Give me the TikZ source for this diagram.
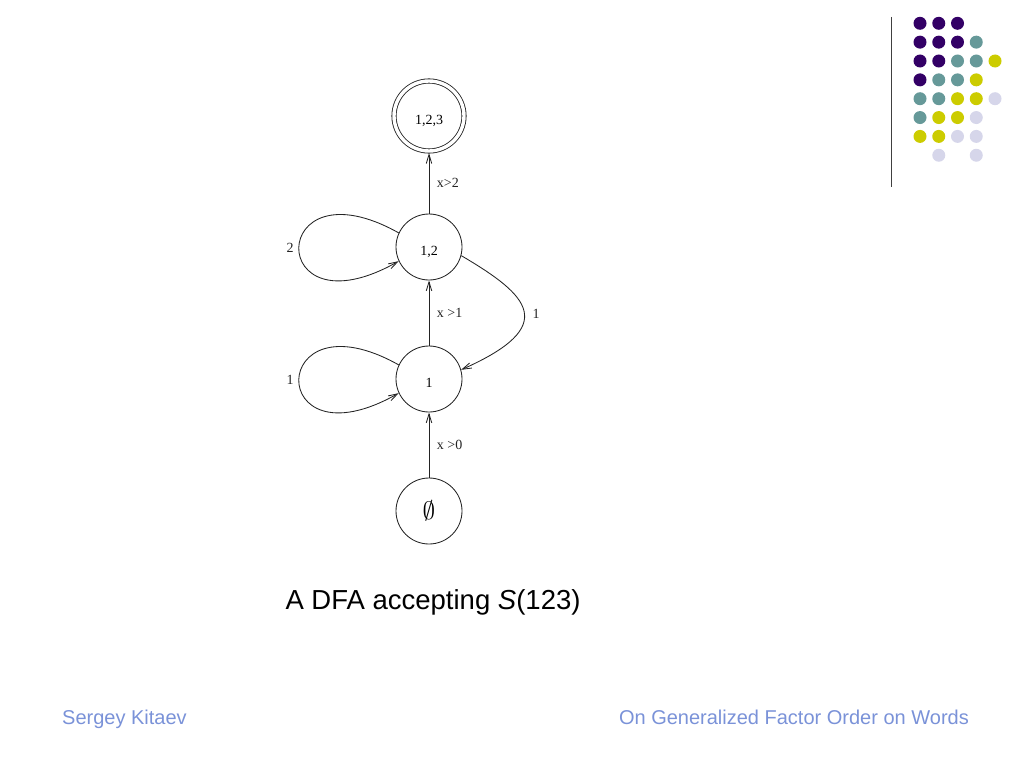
\documentclass[tikz,border=0pt]{standalone}
\usepackage{graphicx}
\usepackage{fontspec}
\setmainfont{Liberation Serif}
\setsansfont{Liberation Sans}
\usetikzlibrary{arrows.meta}
\definecolor{dotP}{RGB}{51,0,102}
\definecolor{dotT}{RGB}{102,153,153}
\definecolor{dotY}{RGB}{204,204,0}
\definecolor{dotL}{RGB}{214,214,234}
\definecolor{footblue}{RGB}{122,146,216}
\definecolor{ink}{RGB}{35,35,35}
\begin{document}
\begin{tikzpicture}[x=1pt,y=-1pt,
  state/.style={circle,draw=ink,line width=0.85pt,minimum size=66pt,inner sep=0pt,
    font=\fontsize{14}{15}\selectfont},
  numstate/.style={state,text height=16pt,text depth=0pt},
  accept/.style={numstate,minimum size=70pt,double,double distance=3.4pt,outer sep=2.1pt},
  trans/.style={draw=ink,line width=0.85pt,-{Straight Barb[length=9pt,width=5.5pt]}},
  elabel/.style={font=\fontsize{14}{15}\selectfont,inner sep=0pt,text=ink},
  caption/.style={font=\sffamily\fontsize{27.5}{30}\selectfont,inner sep=0pt,anchor=base},
  footer/.style={font=\sffamily\fontsize{20}{22}\selectfont,text=footblue,inner sep=0pt,anchor=base},
  dot/.style={fill=#1}
]
\useasboundingbox (0,0) rectangle (1024,768);

% decoration
\draw[line width=1.3pt,draw=black!75] (891.5,17) -- (891.5,187);
\foreach \c/\r/\col in {1/1/dotP,2/1/dotP,3/1/dotP,
  1/2/dotP,2/2/dotP,3/2/dotP,4/2/dotT,
  1/3/dotP,2/3/dotP,3/3/dotT,4/3/dotT,5/3/dotY,
  1/4/dotP,2/4/dotT,3/4/dotT,4/4/dotY,
  1/5/dotT,2/5/dotT,3/5/dotY,4/5/dotY,5/5/dotL,
  1/6/dotT,2/6/dotY,3/6/dotY,4/6/dotL,
  1/7/dotY,2/7/dotY,3/7/dotL,4/7/dotL,
  2/8/dotL,4/8/dotL}
  \fill[dot=\col] ({920+18.75*(\c-1)},{23.3+18.85*(\r-1)}) circle (6.5);

% states
\node[accept] (n123) at (429,116) {1,2,3};
\node[numstate] (n12) at (429,247) {1,2};
\node[numstate] (n1) at (429,379) {1};
\node[state] (n0) at (429,511) {\scalebox{1.75}{$\emptyset$}};

% transitions
\draw[trans] (n0) -- node[elabel,midway,right=7.5pt] (l0) {x >0} (n1);
\draw[trans] (n1) -- node[elabel,midway,right=7.5pt] (l1) {x >1} (n12);
\draw[trans] (n12) -- node[elabel,midway,right=7.5pt] (l2) {x>2} (n123);

\draw[trans] (n12.155) .. controls +(-132,-74) and +(-134,76) .. node[elabel,pos=0.5,left=5pt] (lp2) {2} (n12.205);
\draw[trans] (n1.155) .. controls +(-132,-74) and +(-134,76) .. node[elabel,pos=0.5,left=5pt] (lp1) {1} (n1.205);
\draw[trans] (n12.-15) .. controls +(68,40) and +(99,-44) .. node[elabel,pos=0.52,right=8pt] (lr1) {1} (n1.16);

% caption and footer
\node[caption] (cap) at (433,609) {A DFA accepting \textit{S}(123)};
\node[footer,anchor=base west] (fl) at (62,724) {Sergey Kitaev};
\node[footer,anchor=base east] (fr) at (969,724) {On Generalized Factor Order on Words};
\end{tikzpicture}
\end{document}
